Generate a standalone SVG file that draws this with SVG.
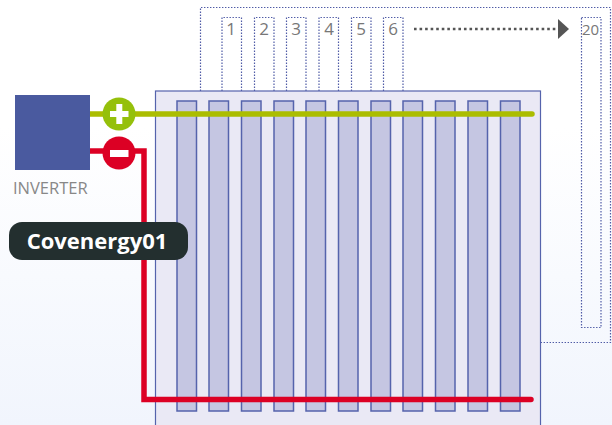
<svg xmlns="http://www.w3.org/2000/svg" width="612" height="425" viewBox="0 0 612 425">
<style>
.bar{fill:#c5c6e2;stroke:#5563ac;stroke-width:1.5}
.dot{fill:none;stroke:#4f5ba6;stroke-width:1.2;stroke-dasharray:1.4 1.6}
.num{font:17px "Open Sans",sans-serif;fill:#777;text-anchor:middle}
</style>
<defs><linearGradient id="bg" x1="0" y1="0" x2="0" y2="1"><stop offset="0.3" stop-color="#fff"/><stop offset="1" stop-color="#f1f5fd"/></linearGradient></defs>
<rect width="612" height="425" fill="url(#bg)"/>
<g id="outer-loop"><path class="dot" d="M200.500 91V7.500H610.500V342.500H541"/></g>
<g id="tube-1"><path class="dot" d="M222 91V17.500H241.500V91"/><text class="num" x="231" y="35">1</text></g>
<g id="tube-2"><path class="dot" d="M254.500 91V17.500H274V91"/><text class="num" x="264" y="35">2</text></g>
<g id="tube-3"><path class="dot" d="M286.500 91V17.500H306V91"/><text class="num" x="296" y="35">3</text></g>
<g id="tube-4"><path class="dot" d="M319 91V17.500H338.500V91"/><text class="num" x="329" y="35">4</text></g>
<g id="tube-5"><path class="dot" d="M351.500 91V17.500H371V91"/><text class="num" x="361" y="35">5</text></g>
<g id="tube-6"><path class="dot" d="M383.500 91V17.500H403V91"/><text class="num" x="393" y="35">6</text></g>
<g id="tube-20"><rect class="dot" x="581.500" y="17.500" width="19.500" height="310"/><text class="num" x="590.500" y="34.500" style="font-size:15px">20</text></g>
<g id="more-arrow"><path d="M414 29H557" fill="none" stroke="#555" stroke-width="2.600" stroke-dasharray="2.600 2.950"/><path d="M558 19L569 29L558 39Z" fill="#555"/></g>
<g id="panel">
<rect x="155.500" y="91" width="385" height="340" fill="#eae9f5" stroke="#5563ac" stroke-width="1.200"/>
<rect class="bar" x="177" y="101" width="19.500" height="310"/>
<rect class="bar" x="209" y="101" width="19.500" height="310"/>
<rect class="bar" x="241.500" y="101" width="19.500" height="310"/>
<rect class="bar" x="274" y="101" width="19.500" height="310"/>
<rect class="bar" x="306" y="101" width="19.500" height="310"/>
<rect class="bar" x="338.500" y="101" width="19.500" height="310"/>
<rect class="bar" x="371" y="101" width="19.500" height="310"/>
<rect class="bar" x="403" y="101" width="19.500" height="310"/>
<rect class="bar" x="435.500" y="101" width="19.500" height="310"/>
<rect class="bar" x="468" y="101" width="19.500" height="310"/>
<rect class="bar" x="500.500" y="101" width="19.500" height="310"/>
</g>
<g id="connectors" fill="none" stroke-width="5.500">
<path d="M90 114H532" stroke="#abbd00" stroke-linecap="round"/>
<path d="M90 151H144V399.500H531" stroke="#dc0024" stroke-linecap="round"/>
</g>
<g id="inverter"><rect x="15" y="95" width="75" height="75" fill="#4a5a9f"/><text x="13" y="194" font-family="Open Sans, sans-serif" font-size="16.500" fill="#888">INVERTER</text></g>
<g id="plus"><circle cx="119" cy="114" r="16.500" fill="#95c00b"/><rect x="110" y="111" width="18.500" height="6" fill="#fff"/><rect x="116.300" y="104" width="6" height="20" fill="#fff"/></g>
<g id="minus"><circle cx="119" cy="153" r="16.500" fill="#dc0024"/><rect x="110" y="150" width="18.500" height="7" fill="#fff"/></g>
<g id="label"><rect x="9" y="222" width="179" height="38" rx="13" fill="#232f2f"/><text x="97" y="248.500" text-anchor="middle" font-family="Open Sans, sans-serif" font-weight="700" font-size="22" fill="#fff">Covenergy01</text></g>
</svg>
